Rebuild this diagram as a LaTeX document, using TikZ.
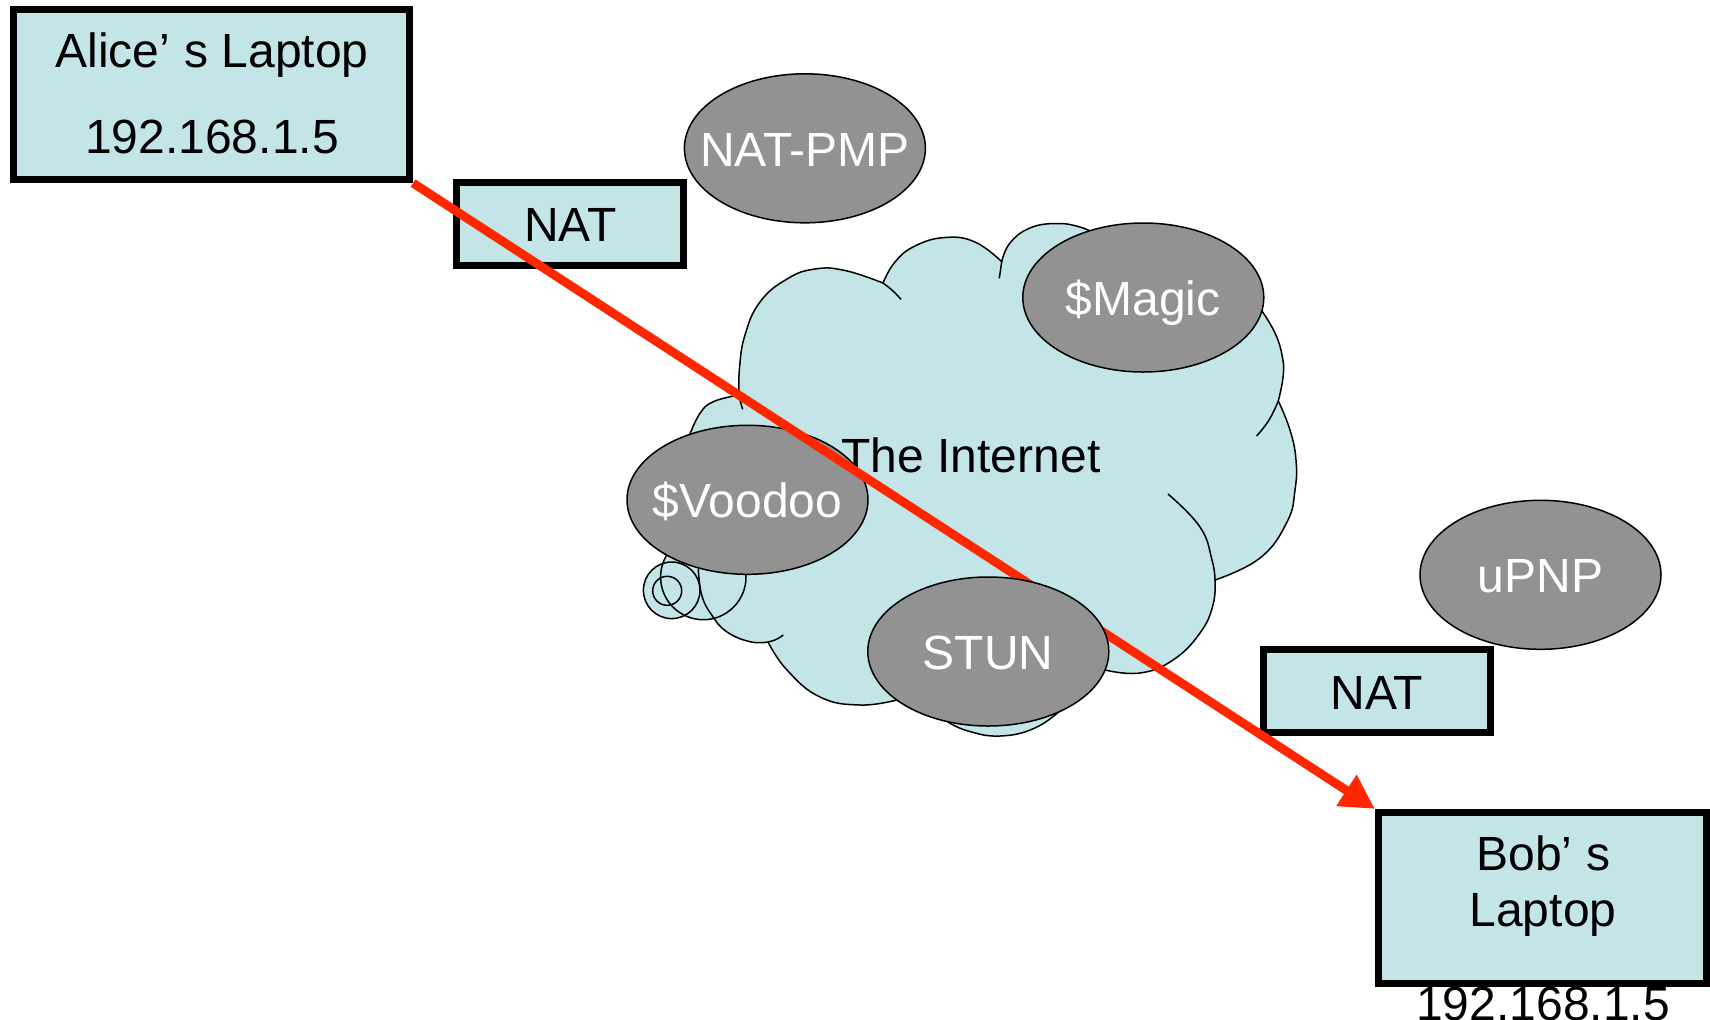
\documentclass[tikz,border=0pt]{standalone}
\usepackage{fontspec}
\setmainfont{Liberation Sans}
\usetikzlibrary{shapes.geometric,arrows.meta}
\definecolor{boxfill}{RGB}{196,229,232}
\definecolor{ovalfill}{RGB}{146,146,146}
\definecolor{linkred}{RGB}{255,38,0}
\newcommand{\zw}[1]{\makebox[0pt]{#1}}
\begin{document}
\begin{tikzpicture}[x=0.5pt,y=-0.5pt,
  every node/.style={font=\fontsize{24pt}{28.8pt}\selectfont, inner sep=0pt},
  netbox/.style={rectangle, draw=black, line width=3.4pt, fill=boxfill},
  natbox/.style={netbox, minimum width=113.5pt, minimum height=41.5pt, text height=18pt, text depth=0pt},
  service/.style={ellipse, draw=black, line width=0.75pt, fill=ovalfill, text=white,
    minimum width=120.5pt, minimum height=74.5pt, text height=18pt, text depth=0pt},
  cloudline/.style={draw=black, line width=0.75pt},
  lobe/.style={smooth, tension=0.75},
  txt/.style={anchor=base},
  link/.style={draw=linkred, line width=4.4pt, -{Triangle[length=17pt,width=17.5pt]}}
]
\useasboundingbox (0,0) rectangle (1710,1019);

% ---- cloud callout tail circles (fill first)
\fill[boxfill] (703.3,577) circle[radius=21.35pt];
\fill[boxfill] (671.7,590.3) circle[radius=14.15pt];
\fill[boxfill] (667.2,590.8) circle[radius=7.25pt];

% ---- cloud body
\path[fill=boxfill, cloudline]
  plot[lobe] coordinates {(739,395) (739.5,368) (745,335) (760,302) (787,279) (815,269) (845,270.5) (883,283)}
  -- plot[lobe] coordinates {(883,283) (895,262) (915,246) (945,237.5) (975,242) (1001.7,261.7)}
  -- plot[lobe] coordinates {(1001.7,261.7) (1010,243) (1030,228) (1056.7,223.5) (1080,227) (1095,234)}
  -- (1160,290)
  -- plot[lobe] coordinates {(1262,311) (1275,333) (1282,355) (1283.3,375) (1278.3,401)}
  -- plot[lobe] coordinates {(1278.3,401) (1290,430) (1296,460) (1295,490) (1287,522) (1260,558) (1215,580)}
  -- plot[lobe] coordinates {(1215,580) (1213,605) (1200,633) (1173,660) (1140,673) (1105,670)}
  -- (1000,690)
  -- plot[lobe] coordinates {(1062,709) (1035,728) (1000,736) (968,731) (948,722)}
  -- (940,690)
  -- plot[lobe] coordinates {(896.7,700) (860,705) (820,697) (787,670) (768,642)}
  -- plot[lobe] coordinates {(768,642) (750,641.7) (726.7,631.7) (711.7,615) (701.7,595) (698.3,568.5)}
  -- (700,500)
  -- plot[lobe] coordinates {(690,434) (700,413.3) (713.3,401.7) (739,395)}
  -- cycle;

% ---- inner hooks of the cloud
\draw[cloudline] plot[lobe] coordinates {(883,283) (892.5,290.5) (901,299.3)};
\draw[cloudline] plot[lobe] coordinates {(1001.7,261.7) (1000.5,270) (999.3,278.3)};
\draw[cloudline] plot[lobe] coordinates {(1278.3,401) (1269,420) (1256.7,436)};
\draw[cloudline] plot[lobe] coordinates {(1215,580) (1212,560) (1200,527) (1168,494)};
\draw[cloudline] plot[lobe] coordinates {(768,642) (776,639.5) (783.3,635)};
\draw[cloudline] plot[lobe] coordinates {(739,395) (740.5,402) (742.7,409.3)};

% ---- tail circle outlines
\draw[cloudline] (703.3,577) circle[radius=21.35pt];
\draw[cloudline] (671.7,590.3) circle[radius=14.15pt];
\draw[cloudline] (667.2,590.8) circle[radius=7.25pt];

% ---- boxes and services
\node[netbox, minimum width=198.2pt, minimum height=85.2pt] (alice) at (211.5,94.5) {};
\node[txt] (alicename) at (212,67.6) {Alice’\hspace{0.3em}s Laptop};
\node[txt] (aliceip) at (212,153.8) {192.168.1.5};

\node[natbox] (nat1) at (570.3,223.6) {NAT};
\node[natbox] (nat2) at (1377,691) {NAT};

\node[service] (natpmp) at (804.9,148.3) {\zw{NAT-PMP}};
\node[service] (magic) at (1143.3,297.5) {\zw{\$Magic}};
\node[service] (upnp) at (1540.5,574.8) {\zw{uPNP}};
\node[service] (voodoo) at (747.5,499.8) {\zw{\$Voodoo}};

\node[txt] (internet) at (971,472) {The Internet};

\node[txt] (bobip) at (1543,1020) {192.168.1.5};
\node[netbox, line width=3.6pt, minimum width=164pt, minimum height=85.5pt] (bob) at (1542.5,898) {};
\node[txt] (bobname) at (1543.7,870.3) {Bob’\hspace{0.3em}s};
\node[txt] (boblaptop) at (1543,926) {Laptop};

% ---- red connection
\draw[link] (alice.south east) -- (bob.north west);

\node[service] (stun) at (988.3,651.5) {\zw{STUN}};
\end{tikzpicture}
\end{document}
